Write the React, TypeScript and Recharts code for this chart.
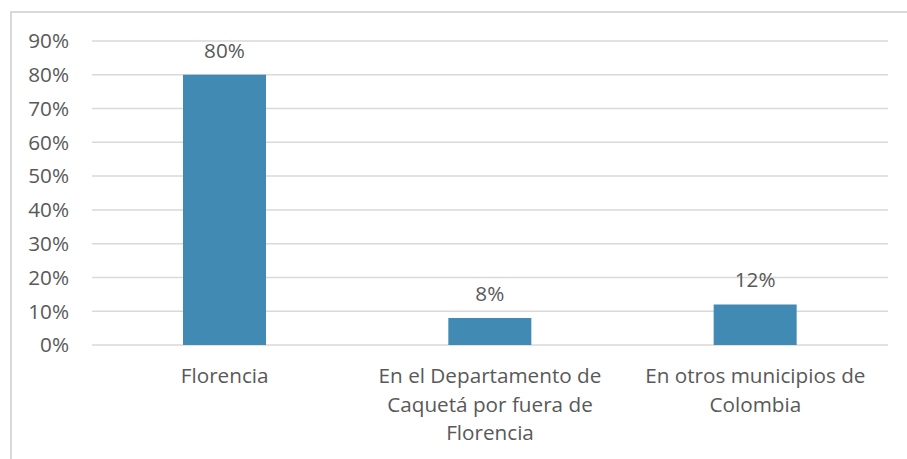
import { Bar, BarChart, CartesianGrid, LabelList, XAxis, YAxis } from 'recharts'

const categories = [
  'Florencia',
  'En el Departamento de\nCaquetá por fuera de\nFlorencia',
  'En otros municipios de\nColombia',
]
const shares = [0.8, 0.08, 0.12]
const yTicks = [0, 0.1, 0.2, 0.3, 0.4, 0.5, 0.6, 0.7, 0.8, 0.9]

const data = categories.map((name, i) => ({ name, value: shares[i] }))

const TEXT = '#595959'
const FONT = '"Open Sans", sans-serif'
const SIZE = 20.7

const pct = (v: number) => `${Math.round(v * 100)}%`

function CategoryTick({ x, y, payload }: any) {
  const lines = String(payload.value).split('\n')
  return (
    <text x={x} y={y} textAnchor="middle" fill={TEXT} fontSize={SIZE} fontFamily={FONT}>
      {lines.map((line, i) => (
        <tspan key={i} x={x} y={y + 30 + i * 28.5}>
          {line}
        </tspan>
      ))}
    </text>
  )
}

function ValueLabel({ x, y, width, value }: any) {
  return (
    <text
      x={x + width / 2}
      y={y - 17}
      textAnchor="middle"
      fill={TEXT}
      fontSize={SIZE}
      fontFamily={FONT}
    >
      {pct(value)}
    </text>
  )
}

export default function App() {
  return (
    <div
      style={{
        position: 'absolute',
        left: 0,
        top: 0,
        width: 907,
        height: 459,
        overflow: 'hidden',
        background: '#fff',
      }}
    >
      <div
        style={{
          position: 'absolute',
          left: 10,
          top: 11,
          width: 1000,
          height: 1000,
          borderTop: '2px solid #D9D9D9',
          borderLeft: '2px solid #D9D9D9',
        }}
      />
      <BarChart
        width={907}
        height={459}
        data={data}
        margin={{ top: 41, right: 19, bottom: 14, left: 0 }}
      >
        <CartesianGrid vertical={false} stroke="#D9D9D9" strokeWidth={1.5} />
        <XAxis
          dataKey="name"
          axisLine={false}
          tickLine={false}
          height={100}
          interval={0}
          tick={<CategoryTick />}
        />
        <YAxis
          domain={[0, 0.9]}
          ticks={yTicks}
          interval={0}
          tickFormatter={pct}
          axisLine={false}
          tickLine={false}
          tickSize={0}
          tickMargin={23}
          width={92}
          tick={{ fill: TEXT, fontSize: SIZE, fontFamily: FONT }}
        />
        <Bar dataKey="value" fill="#418AB3" barSize={83} isAnimationActive={false}>
          <LabelList dataKey="value" content={<ValueLabel />} />
        </Bar>
      </BarChart>
    </div>
  )
}
